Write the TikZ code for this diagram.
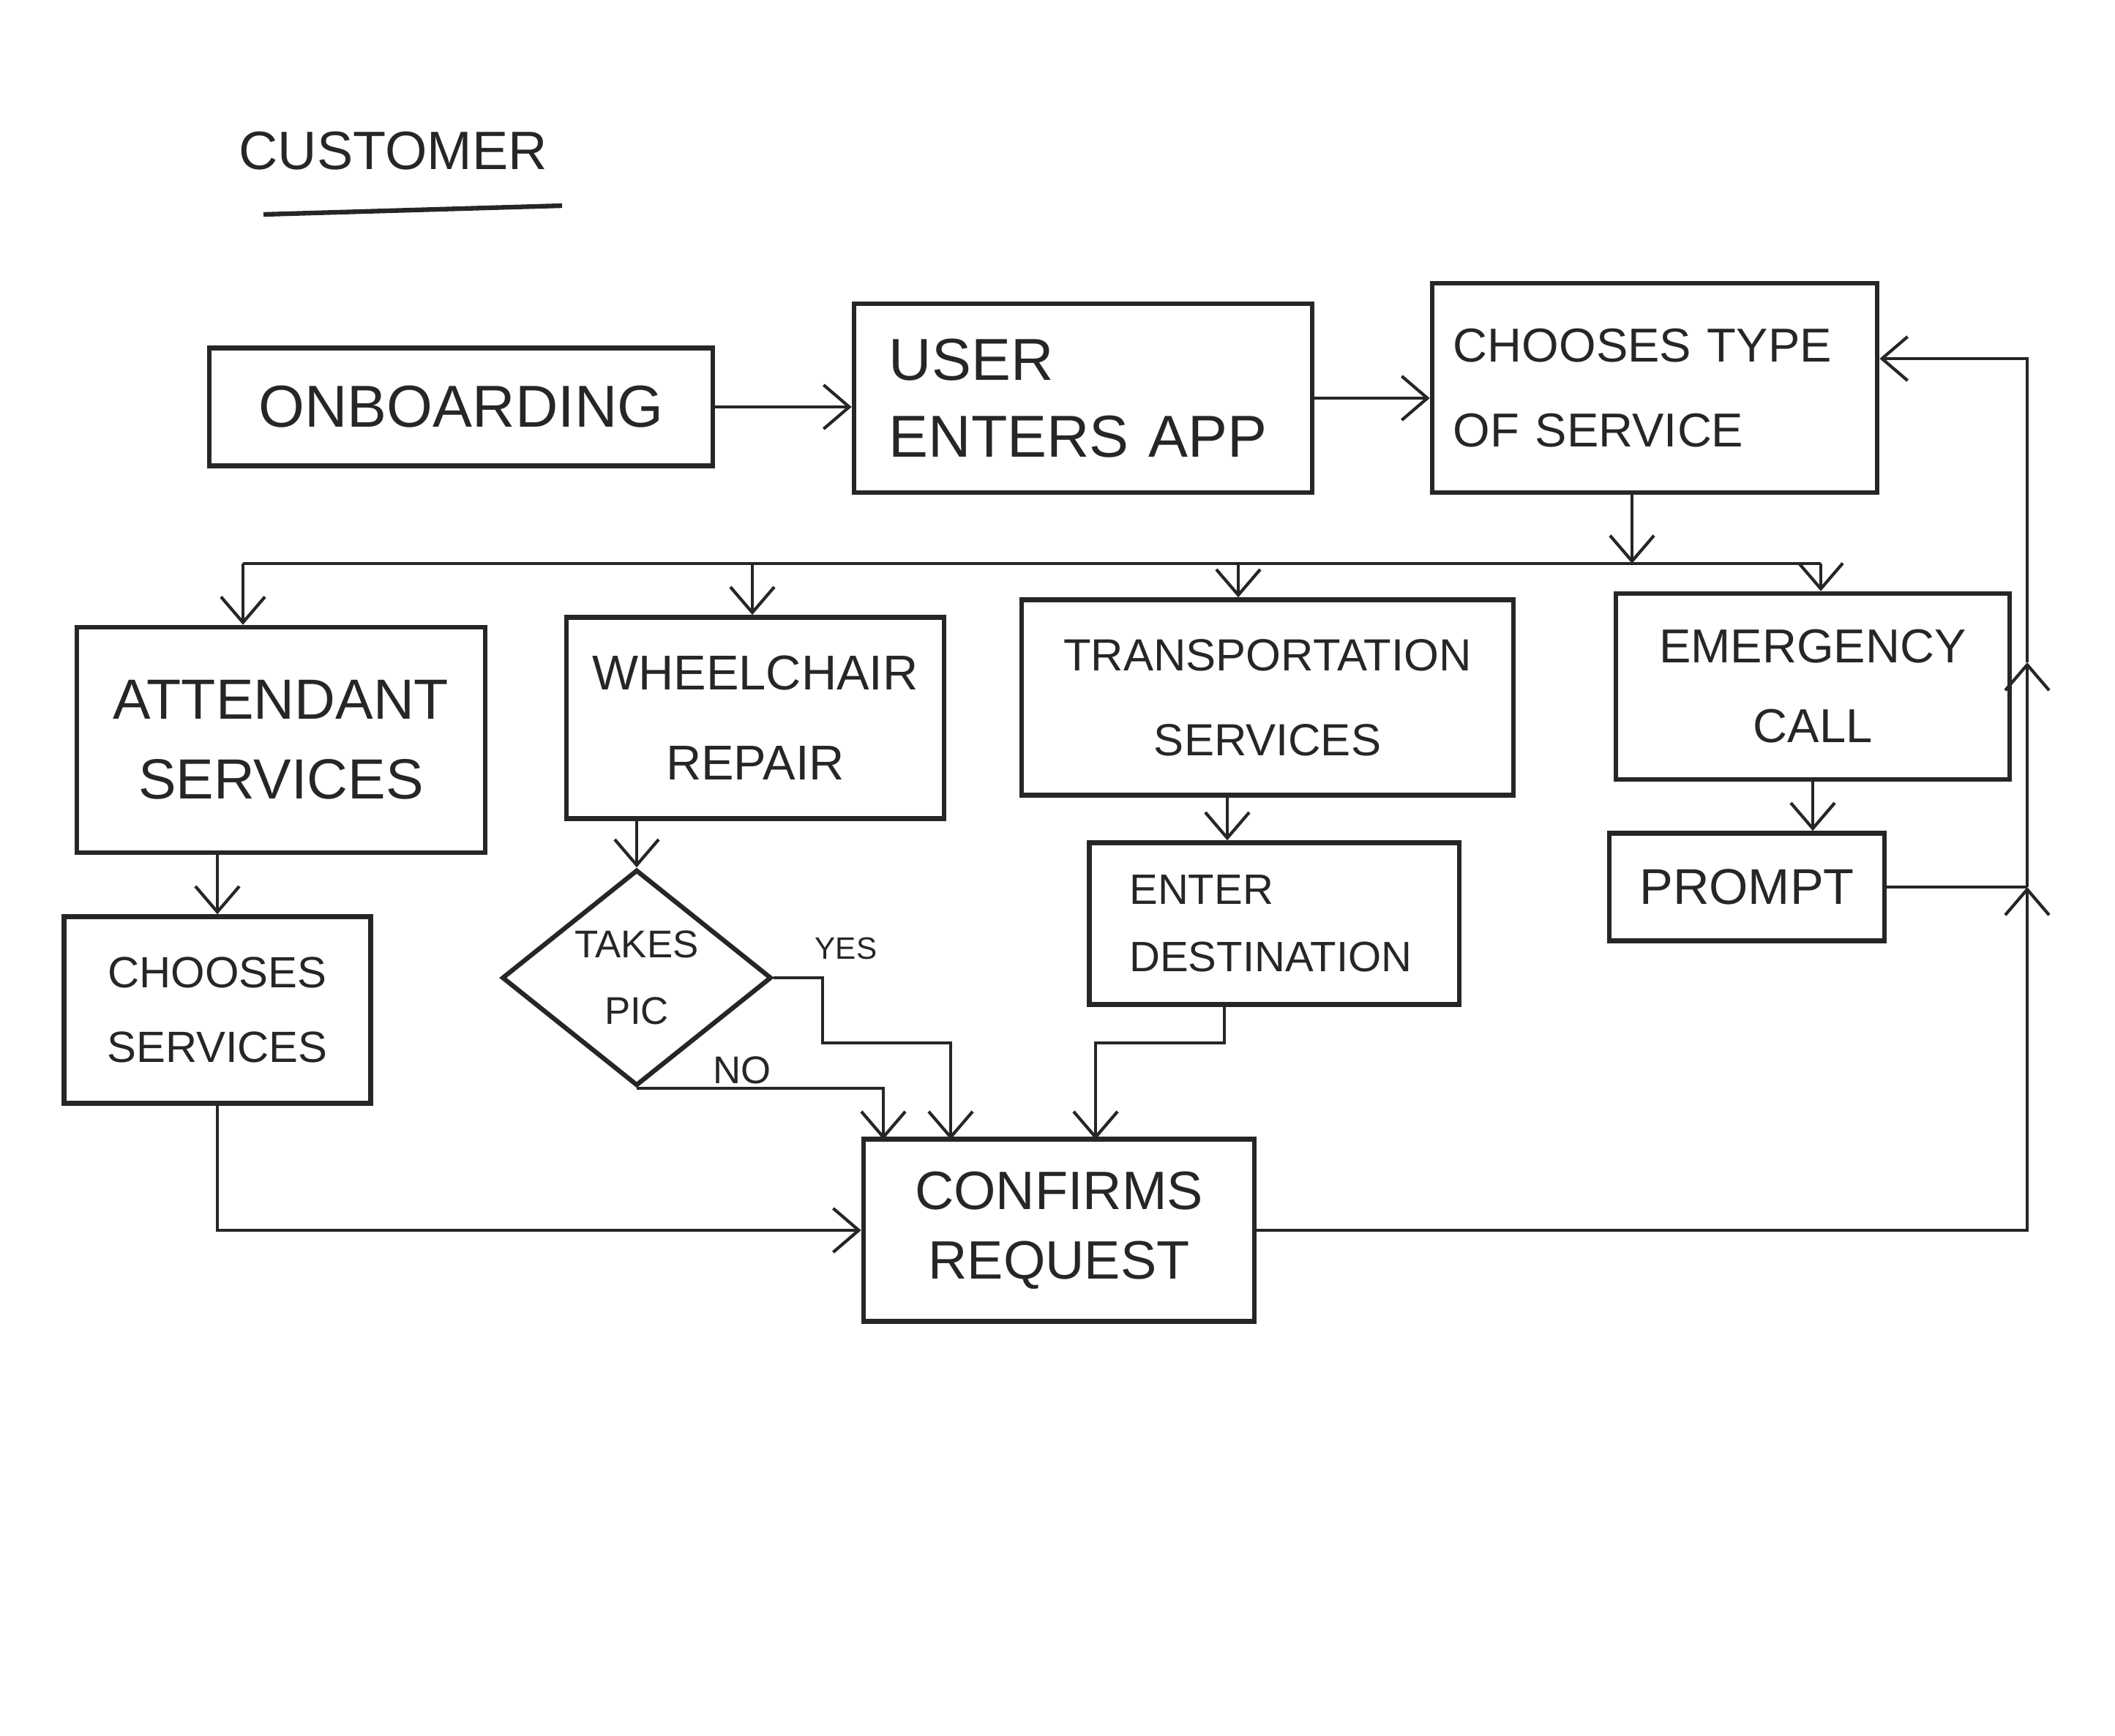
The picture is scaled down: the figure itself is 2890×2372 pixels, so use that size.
\documentclass[tikz,border=0pt]{standalone}
\usepackage{fontspec}
\setmainfont{Liberation Sans}
\usepackage{tikz}
\usetikzlibrary{arrows.meta,positioning,calc,shapes.geometric}

\newcommand{\sizeto}[2]{\fontsize{#1}{#2}\selectfont}
\tikzset{
  stage/.style={draw=black!85,line width=1.8pt,align=center,inner sep=0pt,text=black!85},
  link/.style={draw=black!85,line width=1.2pt},
  >={Straight Barb[length=3.5mm,width=6mm]}
}

\begin{document}
\begin{tikzpicture}[x=0.01cm,y=-0.01cm]
\useasboundingbox (0,0) rectangle (2890,2372);
\node[font=\sizeto{21}{25},text=black!85] (title) at (537,206) {CUSTOMER};
\draw[line width=1.8pt,black!85] (360,293) -- (768,281);

% boxes
\node[stage,minimum width=6.87cm,minimum height=1.61cm,font=\sizeto{23}{28}] (onboard) at (630,556) {ONBOARDING};
\node[stage,minimum width=6.26cm,minimum height=2.58cm,text width=5.3cm,align=left,font=\sizeto{23}{30}] (enter) at (1480,544) {USER\\ENTERS APP};
\node[stage,minimum width=6.08cm,minimum height=2.86cm,text width=5.5cm,align=left,font=\sizeto{18.5}{33}] (choose) at (2261,530) {CHOOSES TYPE\\OF SERVICE};
\node[stage,minimum width=5.58cm,minimum height=3.08cm,font=\sizeto{22}{31}] (attend) at (384,1011) {ATTENDANT\\SERVICES};
\node[stage,minimum width=5.16cm,minimum height=2.75cm,font=\sizeto{19}{35}] (wheel) at (1032,981) {WHEELCHAIR\\REPAIR};
\node[stage,minimum width=6.71cm,minimum height=2.67cm,font=\sizeto{17.5}{33}] (transp) at (1732,953) {TRANSPORTATION\\SERVICES};
\node[stage,minimum width=5.38cm,minimum height=2.54cm,font=\sizeto{18.5}{31}] (emerg) at (2477,938) {EMERGENCY\\CALL};
\node[stage,minimum width=4.19cm,minimum height=2.55cm,font=\sizeto{17}{29}] (chservices) at (297,1380) {CHOOSES\\SERVICES};
\node[stage,diamond,aspect=1.25,minimum width=3.68cm,minimum height=2.95cm,font=\sizeto{15}{26}] (takes) at (870,1336) {TAKES\\PIC};
\node[stage,minimum width=5.05cm,minimum height=2.21cm,text width=3.95cm,align=left,font=\sizeto{16.5}{26}] (dest) at (1741,1262) {ENTER\\DESTINATION};
\node[stage,minimum width=3.76cm,minimum height=1.47cm,font=\sizeto{19.5}{24}] (prompt) at (2387,1212) {PROMPT};
\node[stage,minimum width=5.34cm,minimum height=2.49cm,font=\sizeto{21}{27}] (confirm) at (1447,1681) {CONFIRMS\\REQUEST};
\node[font=\sizeto{12}{14},text=black!85] (yes) at (1156,1296) {YES};
\node[font=\sizeto{15}{18},text=black!85] (no) at (1014,1462) {NO};

% connectors
\coordinate (split) at (2230,770);
\coordinate (busA) at (332,770);
\coordinate (busB) at (1028,770);
\coordinate (busC) at (1692,770);
\coordinate (busD) at (2488,770);
\draw[link,->] (onboard.east) -- (onboard.east -| enter.west);
\draw[link,->] (enter.east) -- (enter.east -| choose.west);
\draw[link,->] (split |- choose.south) -- (split);
\draw[link] (busA) -- (busD);
\foreach \c/\n in {busA/attend,busB/wheel,busC/transp,busD/emerg}
  \draw[link,->] (\c) -- (\c |- \n.north);
\draw[link,->] (chservices.north |- attend.south) -- (chservices.north);
\draw[link,->] (chservices.south) |- (confirm.west);

\coordinate (yesbend) at (1124,1425);
\coordinate (yesdrop) at (1299,1557);
\coordinate (nodrop) at (1207,1557);
\draw[link,->] (takes.north |- wheel.south) -- (takes.north);
\draw[link,->] (takes.east) -| (yesbend) -| (yesdrop);
\draw[link,->] (takes.south) -| (nodrop);

\coordinate (destin) at ([xshift=-6.4mm]dest.north);
\coordinate (destbend) at (1673,1425);
\coordinate (destdrop) at (1497,1557);
\draw[link,->] (destin |- transp.south) -- (destin);
\draw[link,->] (destbend |- dest.south) -- (destbend) -| (destdrop);
\draw[link,->] (emerg.south) -- (emerg.south |- prompt.north);

\coordinate (loopjoin) at (2770,1212);
\coordinate (loopmid) at (2770,905);
\coordinate (looptop) at (2770,490);
\draw[link,->] (confirm.east) -| (loopjoin);
\draw[link] (prompt.east) -- (loopjoin);
\draw[link,->] (loopjoin) -- (loopmid);
\draw[link,->] (loopmid) -- (looptop) -- (looptop -| choose.east);
\end{tikzpicture}
\end{document}
